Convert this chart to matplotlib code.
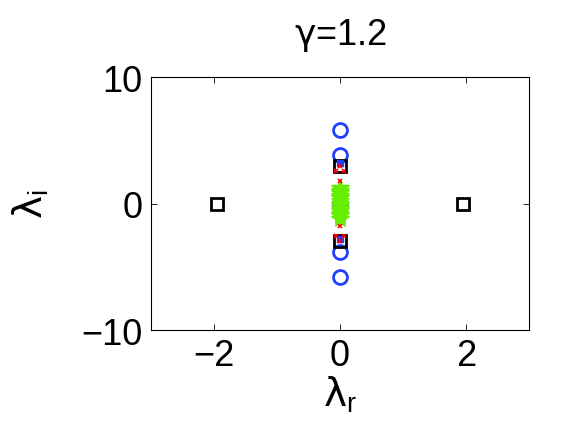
import matplotlib
matplotlib.use("Agg")
import matplotlib.pyplot as plt

plt.rcParams["font.family"] = ["Liberation Sans", "DejaVu Sans"]
plt.rcParams["mathtext.fontset"] = "custom"
plt.rcParams["mathtext.rm"] = "Liberation Sans"
plt.rcParams["mathtext.it"] = "DejaVu Sans"

# eigenvalue sets (real, imag)
circ_re = [0, 0, 0, 0, 0]
circ_im = [5.8, 3.8, 0.0, -3.8, -5.8]

sq_re = [-1.95, 1.95, 0, 0]
sq_im = [0.0, 0.0, 3.0, -3.0]

star_re = [0] * 13
star_im = [-1.2, -1.0, -0.8, -0.6, -0.4, -0.2, 0.0, 0.2, 0.4, 0.6, 0.8, 1.0, 1.2]

red_re = [0, 0, 0, 0, -0.06, 0.06, -0.06, 0.06]
red_im = [3.0, -3.0, 1.8, -1.8, 2.6, 2.6, -2.6, -2.6]

blue_in_re = [0, 0]
blue_in_im = [3.2, -2.8]

fig = plt.figure(figsize=(5.84, 4.39), dpi=100)
ax = fig.add_axes([0.2586, 0.246, 0.6473, 0.5763])

ax.plot(circ_re, circ_im, "o", ls="none", mfc="none", mec="#2040ff",
        mew=2, ms=10)
ax.plot(sq_re, sq_im, "s", ls="none", mfc="none", mec="black", mew=2, ms=9)
ax.plot(blue_in_re, blue_in_im, "s", ls="none", color="#2040ff", ms=4)
ax.plot(star_re, star_im, "*", ls="none", color="#66ee00", ms=13)
ax.plot(red_re, red_im, "x", ls="none", color="red", mew=1.2, ms=3)

ax.set_xlim(-3, 3)
ax.set_ylim(-10, 10)
ax.set_xticks([-2, 0, 2])
ax.set_yticks([-10, 0, 10])
ax.tick_params(labelsize=26, direction="in", length=4, width=0.6,
               top=True, right=True, pad=6)
for sp in ax.spines.values():
    sp.set_linewidth(0.8)

ax.set_xlabel(r"$\lambda_\mathrm{r}$", fontsize=28, labelpad=0)
ax.set_ylabel(r"$\lambda_\mathrm{i}$", fontsize=28, labelpad=22)
ax.set_title(r"$\gamma$=1.2", fontsize=26, pad=24)

fig.savefig("out.png", dpi=100)
